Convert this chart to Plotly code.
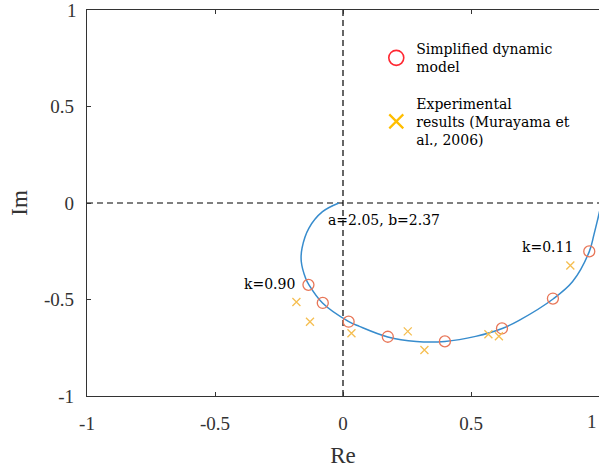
import plotly.graph_objects as go

# Nyquist-type curve
curve_re = [-0.016, -0.08, -0.133, -0.16, -0.163, -0.146, -0.133, -0.08, 0.021, 0.064,
            0.175, 0.286, 0.398, 0.518, 0.622, 0.688, 0.822, 0.897, 0.962, 0.98, 0.996, 1.01]
curve_im = [0.0, -0.045, -0.13, -0.234, -0.303, -0.39, -0.424, -0.518, -0.613, -0.639,
            -0.694, -0.717, -0.717, -0.691, -0.65, -0.608, -0.496, -0.407, -0.252, -0.165, -0.079, 0.0]

# Simplified dynamic model points
model_re = [-0.135, -0.079, 0.022, 0.175, 0.398, 0.621, 0.820, 0.962]
model_im = [-0.424, -0.518, -0.615, -0.693, -0.717, -0.650, -0.495, -0.251]

# Experimental results
exp_re = [-0.182, -0.129, 0.033, 0.253, 0.318, 0.568, 0.609, 0.888]
exp_im = [-0.513, -0.615, -0.675, -0.665, -0.762, -0.680, -0.690, -0.324]

tick_vals = [-1, -0.5, 0, 0.5, 1]
tick_text = ["-1", "-0.5", "0", "0.5", "1"]

serif = "Liberation Serif"
cm = "DejaVu Serif"

fig = go.Figure()

fig.add_trace(go.Scatter(x=curve_re, y=curve_im, mode="lines",
                         line=dict(color="rgb(55,140,205)", width=1.5, shape="spline"),
                         showlegend=False, hoverinfo="skip"))
fig.add_trace(go.Scatter(x=model_re, y=model_im, mode="markers",
                         marker=dict(symbol="circle-open", size=11,
                                     line=dict(color="rgb(232,118,88)", width=1.3),
                                     color="rgb(232,118,88)"),
                         showlegend=False))
fig.add_trace(go.Scatter(x=exp_re, y=exp_im, mode="markers",
                         marker=dict(symbol="x-thin-open", size=8,
                                     line=dict(color="rgb(245,190,80)", width=1.3),
                                     color="rgb(245,190,80)"),
                         showlegend=False))

# legend entries
fig.add_trace(go.Scatter(x=[None], y=[None], mode="markers", legendgroup="a",
                         name="Simplified dynamic<br>model",
                         marker=dict(symbol="circle-open", size=15,
                                     line=dict(color="rgb(255,40,50)", width=1.6),
                                     color="rgb(255,40,50)")))
fig.add_trace(go.Scatter(x=[None], y=[None], mode="markers", legendgroup="b",
                         name="Experimental<br>results (Murayama et<br>al., 2006)",
                         marker=dict(symbol="x-thin-open", size=14,
                                     line=dict(color="rgb(255,190,0)", width=2.2),
                                     color="rgb(255,190,0)")))

dash = dict(color="black", width=1.2, dash="6px,4px")
fig.add_shape(type="line", x0=-1, x1=1, y0=0, y1=0, xref="x", yref="y", line=dash, layer="below")
fig.add_shape(type="line", x0=0, x1=0, y0=-1, y1=1, xref="x", yref="y", line=dash, layer="below")

ann_font = dict(family=cm, size=14, color="black")
fig.add_annotation(x=-0.065, y=-0.088, text="a=2.05, b=2.37", showarrow=False,
                   xanchor="left", yanchor="middle", font=ann_font)
fig.add_annotation(x=-0.18, y=-0.42, text="k=0.90", showarrow=False,
                   xanchor="right", yanchor="middle", font=ann_font)
fig.add_annotation(x=0.908, y=-0.23, text="k=0.11", showarrow=False,
                   xanchor="right", yanchor="middle", font=ann_font)

tick_font = dict(family=serif, size=19, color="#333")
axis_common = dict(tickvals=tick_vals, ticktext=tick_text,
                   ticks="inside", ticklen=4, tickwidth=1, tickcolor="#333",
                   showline=True, linecolor="#333", linewidth=1.2,
                   showgrid=False, zeroline=False, tickfont=tick_font)

# edge tick labels that plotly drops at the figure border
fig.add_annotation(x=tick_vals[-1], y=0, xref="x", yref="paper", text=tick_text[-1],
                   showarrow=False, xanchor="right", yanchor="top", yshift=-13, font=tick_font)
fig.add_annotation(x=0, y=tick_vals[-1], xref="paper", yref="y", text=tick_text[-1],
                   showarrow=False, xanchor="right", yanchor="middle", xshift=-8, font=tick_font)

fig.update_xaxes(**axis_common, range=[-1, 1], mirror="ticks", ticklabelstandoff=10,
                 title=dict(text="Re", font=dict(family=serif, size=23, color="#333"), standoff=13))
fig.update_yaxes(**axis_common, range=[-1, 1], ticklabelstandoff=8,
                 title=dict(text="Im", font=dict(family=serif, size=23, color="#333"), standoff=9))

fig.update_layout(
    width=599, height=471,
    margin=dict(l=87, r=0, t=10, b=75),
    plot_bgcolor="white", paper_bgcolor="white",
    legend=dict(x=0.565, y=0.94, xanchor="left", yanchor="top", traceorder="grouped",
                tracegroupgap=15,
                bgcolor="rgba(0,0,0,0)", font=dict(family=cm, size=14, color="black")),
)

fig.write_html("out.html")
